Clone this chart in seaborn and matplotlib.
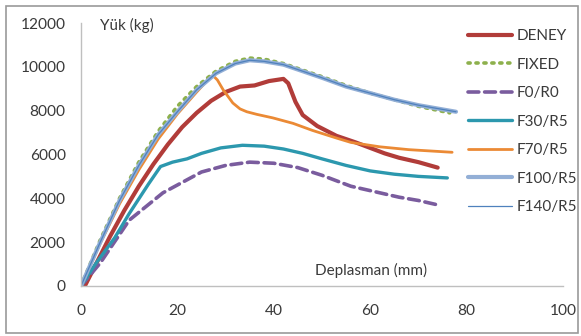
import pandas as pd
import seaborn as sns
import matplotlib.pyplot as plt
from matplotlib.patches import Rectangle

# Load-displacement curves
deney_x = [0.8, 3, 6, 9, 12, 15, 18, 21, 24, 27, 30, 33, 36, 39, 42, 43, 44.5, 46, 49, 53, 57, 60, 63, 66, 70, 74]
deney_y = [0, 950, 2250, 3450, 4550, 5550, 6450, 7250, 7900, 8450, 8850, 9100, 9150, 9350, 9450, 9250, 8400, 7800, 7300, 6850, 6550, 6300, 6050, 5850, 5650, 5400]

fixed_x = [0, 4, 8, 12, 16, 20, 24, 28, 32, 35, 38, 42, 46, 50, 55, 60, 65, 70, 76.5]
fixed_y = [0, 2100, 4000, 5650, 7050, 8200, 9100, 9800, 10250, 10400, 10350, 10150, 9850, 9550, 9150, 8800, 8500, 8200, 7900]

f0_x = [0, 4, 10, 17, 25, 30, 35, 40, 45, 50, 56, 62, 66, 70, 74]
f0_y = [0, 1050, 3000, 4250, 5200, 5500, 5650, 5600, 5400, 5050, 4550, 4250, 4050, 3900, 3700]

f30_x = [0, 3, 7, 10, 14, 16.5, 19, 22, 25, 29, 33.5, 38, 42, 46, 50, 55, 60, 65, 70, 76]
f30_y = [0, 1000, 2200, 3300, 4650, 5450, 5650, 5800, 6050, 6300, 6420, 6380, 6250, 6050, 5800, 5500, 5250, 5100, 5000, 4930]

f70_x = [0, 4, 8, 12, 16, 20, 24, 26.5, 27.4, 28.3, 29.5, 31.5, 33, 34.4, 36.5, 39.8, 44, 48, 53, 56, 62, 68, 77]
f70_y = [0, 1950, 3750, 5300, 6700, 7850, 8850, 9450, 9600, 9400, 8950, 8350, 8080, 7950, 7830, 7670, 7420, 7100, 6750, 6550, 6350, 6220, 6100]

f100_x = [0, 4, 8, 12, 16, 20, 24, 28, 32, 35, 38, 42, 46, 50, 55, 60, 65, 70, 77.8]
f100_y = [0, 2000, 3900, 5500, 6900, 7950, 8950, 9700, 10150, 10300, 10250, 10100, 9800, 9500, 9100, 8800, 8500, 8250, 7950]

f140_x = f100_x
f140_y = f100_y

series = [
    ("DENEY", deney_x, deney_y, dict(color="#B13C39", lw=3.0, ls="-")),
    ("FIXED", fixed_x, fixed_y, dict(color="#8DB04C", lw=2.6, ls=(0, (0.6, 1.6)))),
    ("F0/R0", f0_x, f0_y, dict(color="#7A5C9E", lw=2.6, ls=(0, (3, 1.6)))),
    ("F30/R5", f30_x, f30_y, dict(color="#2C98AE", lw=2.4, ls="-")),
    ("F70/R5", f70_x, f70_y, dict(color="#EB8A35", lw=2.0, ls="-")),
    ("F100/R5", f100_x, f100_y, dict(color="#93AFD6", lw=3.0, ls="-")),
    ("F140/R5", f140_x, f140_y, dict(color="#4F81BD", lw=0.9, ls="-")),
]

sns.set_style("white")
plt.rcParams['font.family'] = ['Lato', 'DejaVu Sans']

fig = plt.figure(figsize=(5.81, 3.36), dpi=100)
ax = fig.add_axes([0.1394, 0.149, 0.8296, 0.7825])

for name, xs, ys, st in series:
    df = pd.DataFrame({"x": xs, "y": ys})
    sns.lineplot(data=df, x="x", y="y", ax=ax, label=name, sort=False,
                 color=st["color"], lw=st["lw"], linestyle=st["ls"],
                 dash_capstyle="round", estimator=None)

ax.set_xlim(0, 100)
ax.set_ylim(0, 12000)
ax.set_xticks([0, 20, 40, 60, 80, 100])
ax.set_yticks([0, 2000, 4000, 6000, 8000, 10000, 12000])
ax.set_xlabel("")
ax.set_ylabel("")
for s in ["top", "right"]:
    ax.spines[s].set_visible(False)
for s in ["left", "bottom"]:
    ax.spines[s].set_color("#BFBFBF")
    ax.spines[s].set_linewidth(1.0)
ax.tick_params(axis="both", direction="out", length=5, width=1, color="#BFBFBF",
               labelsize=11.2, labelcolor="#3A3A3A", pad=6)
ax.tick_params(axis="x", pad=8)

ax.text(4, 11900, "Yük (kg)", fontsize=11, color="#3A3A3A", va="center")
ax.text(48.5, 700, "Deplasman (mm)", fontsize=11, color="#3A3A3A", va="center")

leg = ax.legend(loc="upper left", bbox_to_anchor=(0.79, 1.0), frameon=False,
                fontsize=11, handlelength=2.9, handletextpad=0.3,
                labelspacing=0.95, borderaxespad=0.0)
for t in leg.get_texts():
    t.set_color("#3A3A3A")

fig.patches.append(Rectangle((0.011, 0.008), 0.984, 0.975, transform=fig.transFigure,
                             fill=False, edgecolor="#9A9A9A", lw=1.2))

fig.savefig("out.png", dpi=100)
